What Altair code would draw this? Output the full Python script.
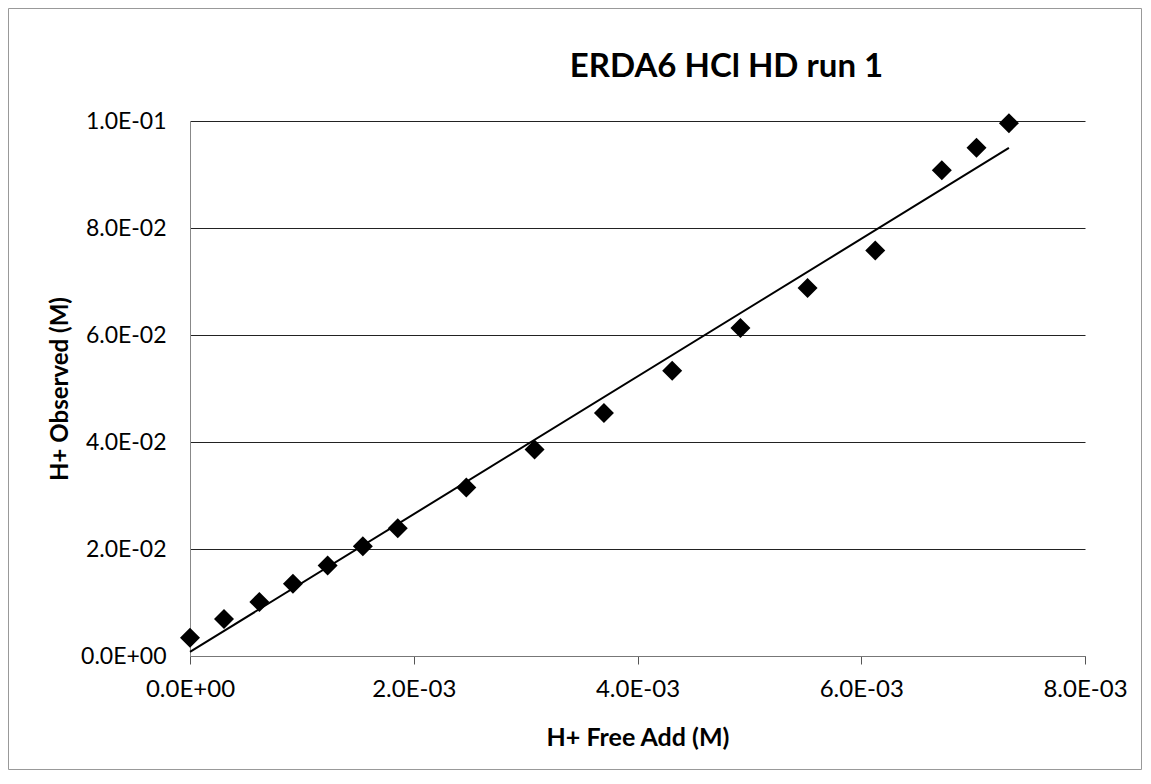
import altair as alt
import pandas as pd

# Data
h_free_add = [0.0, 0.000304, 0.000620, 0.000920, 0.001230, 0.001545, 0.001857,
              0.002470, 0.003080, 0.003700, 0.004310, 0.004920, 0.005520,
              0.006125, 0.006720, 0.007030, 0.007320]
h_observed = [0.0034, 0.0069, 0.0101, 0.0135, 0.0169, 0.0205, 0.0239,
              0.0315, 0.0386, 0.0454, 0.0533, 0.0613, 0.0688,
              0.0758, 0.0908, 0.0950, 0.0996]

x_ticks = [0.0, 0.002, 0.004, 0.006, 0.008]
x_tick_labels = ["0.0E+00", "2.0E-03", "4.0E-03", "6.0E-03", "8.0E-03"]
y_ticks = [0.0, 0.02, 0.04, 0.06, 0.08, 0.10]
y_tick_labels = ["0.0E+00", "2.0E-02", "4.0E-02", "6.0E-02", "8.0E-02", "1.0E-01"]

title_text = "ERDA6 HCl HD run 1"
x_title = "H+ Free Add (M)"
y_title = "H+ Observed (M)"

df = pd.DataFrame({"x": h_free_add, "y": h_observed})

FONT = "Lato"
W, H = 895, 535
PAD_L, PAD_T, PAD_R, PAD_B = 182, 113, 58, 115


def label_expr(labels, step):
    arr = "[" + ",".join("'%s'" % s for s in labels) + "]"
    return "%s[round(datum.value / %s)]" % (arr, step)


x_enc = alt.X(
    "x:Q",
    scale=alt.Scale(domain=[0, 0.008], nice=False, zero=False),
    axis=alt.Axis(
        title=x_title,
        values=x_ticks,
        labelExpr=label_expr(x_tick_labels, 0.002),
        labelFlush=False,
        labelOverlap=False,
        grid=False,
        domainColor="#777777",
        tickColor="#555555",
        tickSize=8,
        labelPadding=13,
        labelFont=FONT,
        labelFontSize=24,
        labelColor="black",
        titleFont=FONT,
        titleFontSize=25,
        titleFontWeight="bold",
        titleColor="black",
        titleY=81,
        titleBaseline="middle",
    ),
)
y_enc = alt.Y(
    "y:Q",
    scale=alt.Scale(domain=[0, 0.1], nice=False, zero=False),
    axis=alt.Axis(
        title=y_title,
        values=y_ticks,
        labelExpr=label_expr(y_tick_labels, 0.02),
        labelFlush=False,
        labelOverlap=False,
        grid=True,
        gridColor="#222222",
        gridWidth=1,
        domainColor="#888888",
        ticks=False,
        labelPadding=24,
        labelFont=FONT,
        labelFontSize=23,
        labelColor="black",
        titleFont=FONT,
        titleFontSize=24,
        titleFontWeight="bold",
        titleColor="black",
        titleX=-130,
        titleBaseline="middle",
    ),
)

points = alt.Chart(df).mark_point(
    shape="diamond", filled=True, color="black", size=400, opacity=1
).encode(x=x_enc, y=y_enc)

trend = alt.Chart(df).transform_regression("x", "y").mark_line(
    color="black", strokeWidth=2
).encode(x="x:Q", y="y:Q")

frame = alt.Chart(pd.DataFrame({"k": [0]})).mark_rect(
    fill=None, stroke="#999999", strokeWidth=1
).encode(
    x=alt.value(-PAD_L + 0.5),
    x2=alt.value(W + PAD_R - 1.5),
    y=alt.value(-PAD_T + 0.5),
    y2=alt.value(H + PAD_B - 1.5),
)

chart = alt.layer(frame, trend, points).properties(
    width=W,
    height=H,
    autosize=alt.AutoSizeParams(type="none"),
    padding={"left": PAD_L, "top": PAD_T, "right": PAD_R, "bottom": PAD_B},
    background="white",
    title=alt.TitleParams(
        text=title_text,
        font=FONT,
        fontSize=33,
        fontWeight="bold",
        color="black",
        anchor="middle",
        frame="group",
        baseline="alphabetic",
        dx=89,
        offset=-102,
    ),
).configure_view(stroke=None)

chart.save("out.html", embed_options={"renderer": "svg", "actions": False})
